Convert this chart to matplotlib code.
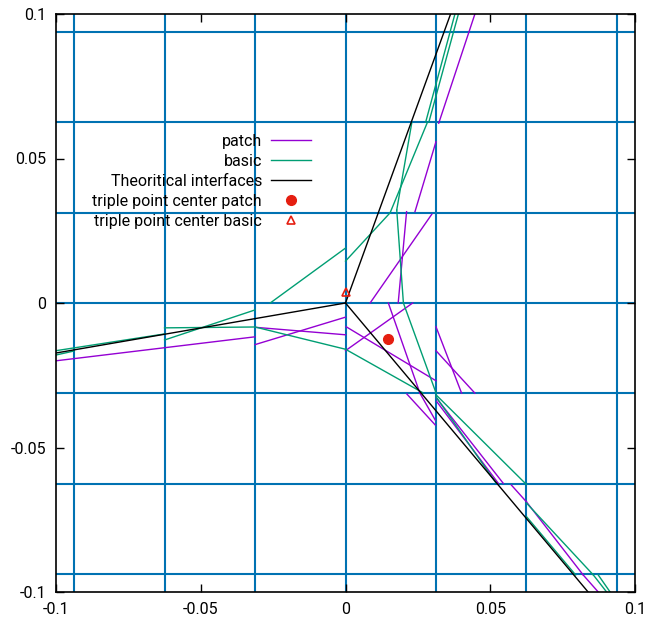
import matplotlib
matplotlib.use("Agg")
import matplotlib.pyplot as plt
from matplotlib.lines import Line2D

plt.rcParams['font.family'] = ['Roboto', 'DejaVu Sans']

# mesh lines (cell boundaries)
mesh = [-0.09375, -0.0625, -0.03125, 0.0, 0.03125, 0.0625, 0.09375]

# interface segments: (x0, y0, x1, y1)
patch_segments = [
    (-0.1, -0.0200, -0.03125, -0.0117),
    (-0.03125, -0.0144, 0.0, -0.0049),
    (-0.03125, -0.0084, 0.0, -0.0110),
    (0.0002, -0.0082, 0.03125, -0.0269),
    (0.0, -0.0165, 0.0232, 0.0),
    (0.0148, 0.0, 0.0257, -0.0312),
    (0.03125, -0.0082, 0.0401, -0.0312),
    (0.03125, -0.0165, 0.0447, -0.0312),
    (0.0212, -0.0315, 0.0310, -0.0422),
    (0.0257, -0.0312, 0.0310, -0.0405),
    (0.0298, 0.0307, 0.0085, 0.0),
    (0.0211, 0.0316, 0.0182, 0.0),
    (0.03125, 0.0558, 0.0240, 0.0316),
    (0.0447, 0.1, 0.0322, 0.0622),
    (0.0315, -0.0330, 0.0545, -0.0624),
    (0.0315, -0.0341, 0.0528, -0.0624),
    (0.0573, -0.0630, 0.0625, -0.0688),
    (0.0625, -0.0688, 0.0821, -0.0941),
    (0.0821, -0.0941, 0.0873, -0.1),
]

basic_segments = [
    (-0.1, -0.0165, -0.0625, -0.0107),
    (-0.1, -0.0180, -0.09375, -0.0166),
    (-0.0625, -0.0128, -0.03125, -0.0024),
    (-0.0625, -0.0086, -0.03125, -0.0083),
    (-0.03125, -0.0083, 0.0, -0.0160),
    (0.0, -0.0160, 0.0268, -0.0311),
    (-0.026, 0.0, 0.0, 0.019),
    (0.0, 0.0145, 0.0154, 0.0312),
    (0.0154, 0.0312, 0.0282, 0.0623),
    (0.0229, 0.0624, 0.0177, 0.0322),
    (0.0177, 0.0322, 0.0200, 0.0),
    (0.0200, 0.0, 0.0313, -0.0312),
    (0.0277, 0.0626, 0.0378, 0.1),
    (0.0288, 0.0626, 0.0390, 0.1),
    (0.0313, -0.0318, 0.0625, -0.0628),
    (0.0313, -0.0325, 0.0520, -0.0623),
    (0.0625, -0.0692, 0.0856, -0.0941),
    (0.0625, -0.0739, 0.0795, -0.0941),
    (0.0856, -0.0941, 0.0902, -0.1),
    (0.0873, -0.0941, 0.0914, -0.1),
]

theory_segments = [
    (0.0, 0.0, 0.0363, 0.1),
    (0.0, 0.0, -0.1, -0.0173),
    (0.0, 0.0, 0.0838, -0.1),
]

center_patch = (0.0147, -0.0125)
center_basic = (0.0002, 0.0038)

ticks = [-0.1, -0.05, 0.0, 0.05, 0.1]
tick_labels = ["-0.1", "-0.05", "0", "0.05", "0.1"]

purple = "#9400d3"
green = "#009e73"
red = "#e51e10"
blue = "#0072b2"

fig = plt.figure(figsize=(6.46, 6.2), dpi=100)
ax = fig.add_axes([56/646, 28/620, 579/646, 578/620])

# mesh
for m in mesh:
    ax.axvline(m, color=blue, lw=1.5, zorder=1)
    ax.axhline(m, color=blue, lw=1.5, zorder=1)

for x0, y0, x1, y1 in patch_segments:
    ax.plot([x0, x1], [y0, y1], color=purple, lw=1.0, zorder=2)
for x0, y0, x1, y1 in basic_segments:
    ax.plot([x0, x1], [y0, y1], color=green, lw=1.0, zorder=3)
for x0, y0, x1, y1 in theory_segments:
    ax.plot([x0, x1], [y0, y1], color="black", lw=1.0, zorder=4)

ax.plot(*center_patch, ls="none", marker="o", color=red, ms=7, zorder=5)
ax.plot(*center_basic, ls="none", marker="^", mfc="none", mec=red, mew=1.2, ms=5.5, zorder=5)

ax.set_xlim(-0.1, 0.1)
ax.set_ylim(-0.1, 0.1)
ax.set_xticks(ticks)
ax.set_xticklabels(tick_labels)
ax.set_yticks(ticks)
ax.set_yticklabels(tick_labels)
ax.tick_params(direction="in", length=6, width=1, top=True, right=True,
               labelsize=11.5, pad=7)
for s in ax.spines.values():
    s.set_linewidth(1.2)
    s.set_zorder(6)

handles = [
    Line2D([], [], color=purple, lw=1.0),
    Line2D([], [], color=green, lw=1.0),
    Line2D([], [], color="black", lw=1.0),
    Line2D([], [], ls="none", marker="o", color=red, ms=7),
    Line2D([], [], ls="none", marker="^", mfc="none", mec=red, mew=1.2, ms=5.5),
]
labels = ["patch", "basic", "Theoritical interfaces",
          "triple point center patch", "triple point center basic"]
leg = ax.legend(handles, labels, markerfirst=False, frameon=False,
                loc="upper right", bbox_to_anchor=(311/646, 1 - 134/620),
                bbox_transform=fig.transFigure, borderpad=0, borderaxespad=0,
                handlelength=2.5, handletextpad=0.56, labelspacing=0.31,
                fontsize=11.5)
leg.set_zorder(7)

fig.savefig("out.png", dpi=100)
